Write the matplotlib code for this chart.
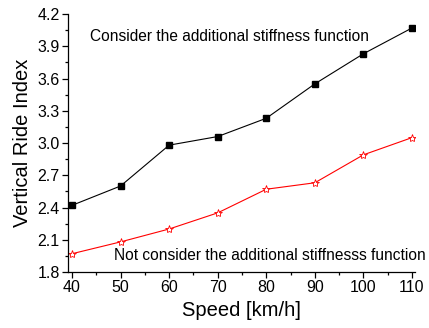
import matplotlib
matplotlib.use("Agg")
import matplotlib.pyplot as plt
from matplotlib.ticker import MultipleLocator

plt.rcParams['font.family'] = ['Liberation Sans', 'DejaVu Sans']

speed = [40, 50, 60, 70, 80, 90, 100, 110]
with_stiff = [2.42, 2.60, 2.98, 3.06, 3.23, 3.55, 3.83, 4.07]
without_stiff = [1.97, 2.08, 2.20, 2.35, 2.57, 2.63, 2.89, 3.05]

fig = plt.figure(figsize=(4.29, 3.28), dpi=100)
ax = fig.add_axes([68/429, 1-272/328, (415-68)/429, (272-14)/328])

ax.plot(speed, with_stiff, color='black', lw=0.8, marker='s', ms=4.3,
        mfc='black', mec='black')
ax.plot(speed, without_stiff, color='red', lw=0.8, marker='*', ms=6,
        mfc='white', mec='red', mew=0.6)

ax.set_xlim(39.18, 110.62)
ax.set_ylim(1.8, 4.2)
ax.xaxis.set_major_locator(MultipleLocator(10))
ax.xaxis.set_minor_locator(MultipleLocator(5))
ax.yaxis.set_minor_locator(MultipleLocator(0.15))
ax.set_yticks([1.8, 2.1, 2.4, 2.7, 3.0, 3.3, 3.6, 3.9, 4.2])
ax.set_yticklabels(['1.8', '2.1', '2.4', '2.7', '3.0', '3.3', '3.6', '3.9', '4.2'])

for s in ['top', 'right']:
    ax.spines[s].set_visible(False)
for s in ['left', 'bottom']:
    ax.spines[s].set_linewidth(0.9)

ax.tick_params(which='major', direction='out', length=4, width=0.9, labelsize=11.5, pad=2)
ax.tick_params(which='minor', direction='out', length=2.2, width=0.9)

ax.set_xlabel('Speed [km/h]', fontsize=14.5, labelpad=4)
ax.set_ylabel('Vertical Ride Index', fontsize=14.5, labelpad=4)

ax.text(43.7, 3.995, 'Consider the additional stiffness function', fontsize=11.2,
        va='center', ha='left')
ax.text(48.7, 1.958, 'Not consider the additional stiffnesss function', fontsize=11.2,
        va='center', ha='left', clip_on=False)

fig.savefig('out.png', dpi=100)
